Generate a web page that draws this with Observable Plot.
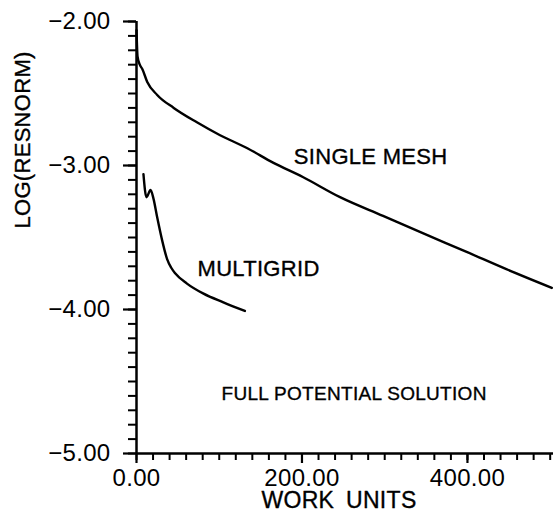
<!DOCTYPE html>
<html>
<head>
<meta charset="utf-8">
<script src="https://cdn.jsdelivr.net/npm/d3@7"></script>
<script src="https://cdn.jsdelivr.net/npm/@observablehq/plot@0.6"></script>
<style>
  html, body { margin: 0; padding: 0; background: #fff; }
  svg { display: block; }
  svg text { letter-spacing: 0.3px; }
</style>
</head>
<body>
<script>
// Convergence history: log of residual norm against work units
const singleMeshWork = [0, 0.5, 1.2, 4, 7, 13, 25, 45, 73, 101, 134, 165, 201, 246, 298, 346, 399, 447, 502];
const singleMeshLog  = [-2.06, -2.15, -2.24, -2.30, -2.33, -2.42, -2.51, -2.60, -2.70, -2.79, -2.88, -2.98, -3.08, -3.22, -3.35, -3.47, -3.60, -3.72, -3.85];

const multigridWork = [8.4, 12, 17, 20.5, 25, 31, 37, 42, 47, 61, 81, 105, 131];
const multigridLog  = [-3.06, -3.22, -3.17, -3.23, -3.36, -3.52, -3.65, -3.71, -3.75, -3.82, -3.89, -3.95, -4.01];

// Curve labels and their anchor points (work units, log residual)
const labelTexts = ["SINGLE MESH", "MULTIGRID", "FULL POTENTIAL SOLUTION"];
const labelWork  = [283, 147.5, 263];
const labelLog   = [-2.944, -3.719, -4.583];
const labelSizes = [22, 22, 19];

// Axis ticks
const xMinorTicks = d3.range(0, 501, 20);
const xMajorTicks = [0, 200, 400];
const yMinorTicks = d3.range(-50, -19).map(d => d / 10);
const yMajorTicks = [-5, -4, -3, -2];

const xTitle = "WORK\u2002UNITS";
const yTitle = "LOG(RESNORM)";

const singleMesh = singleMeshWork.map((w, i) => ({work: w, log: singleMeshLog[i]}));
const multigrid = multigridWork.map((w, i) => ({work: w, log: multigridLog[i]}));
const labels = labelTexts.map((t, i) => ({text: t, work: labelWork[i], log: labelLog[i], size: labelSizes[i]}));

const fmt = d3.format(".2f");
const font = "'Liberation Sans', Arial, Helvetica, sans-serif";
const ink = {fill: "#000", stroke: "#000", strokeWidth: 0.35};

const chart = Plot.plot({
  width: 554,
  height: 512,
  marginLeft: 136,
  marginRight: 1,
  marginTop: 21,
  marginBottom: 59,
  x: {domain: [0, 504]},
  y: {domain: [-5, -2]},
  style: {fontFamily: font, background: "#fff", color: "#000"},
  marks: [
    // minor ticks
    Plot.axisX(xMinorTicks, {tickSize: 7, strokeWidth: 2, tickFormat: () => "", label: null}),
    Plot.axisY(yMinorTicks, {tickSize: 8, strokeWidth: 2, tickFormat: () => "", label: null}),
    // major ticks with labels
    Plot.axisX(xMajorTicks, {tickSize: 10, tickPadding: 5, strokeWidth: 2.2, tickFormat: fmt, fontSize: 24, label: null}),
    Plot.axisY(yMajorTicks, {tickSize: 13, tickPadding: 13, strokeWidth: 2.2, tickFormat: fmt, fontSize: 24, label: null}),
    // axis lines
    Plot.ruleX([0], {y1: -5, y2: -2, strokeWidth: 2.5}),
    Plot.ruleY([-5], {x1: 0, x2: 504, strokeWidth: 2.5}),
    // convergence curves
    Plot.line(singleMesh, {x: "work", y: "log", curve: "monotone-x", strokeWidth: 2.4}),
    Plot.line(multigrid, {x: "work", y: "log", curve: "monotone-x", strokeWidth: 2.4}),
    // curve labels
    Plot.text(labels, {x: "work", y: "log", text: "text", fontSize: d => d.size, textAnchor: "middle", lineAnchor: "middle", ...ink}),
    // axis titles
    Plot.text([xTitle], {frameAnchor: "bottom", text: d => d, dx: -6, dy: 47, fontSize: 23, lineAnchor: "middle", ...ink}),
    Plot.text([yTitle], {frameAnchor: "left", text: d => d, dx: -114, dy: -9, rotate: -90, fontSize: 22, lineAnchor: "middle", ...ink})
  ]
});

document.body.appendChild(chart);
</script>
</body>
</html>
